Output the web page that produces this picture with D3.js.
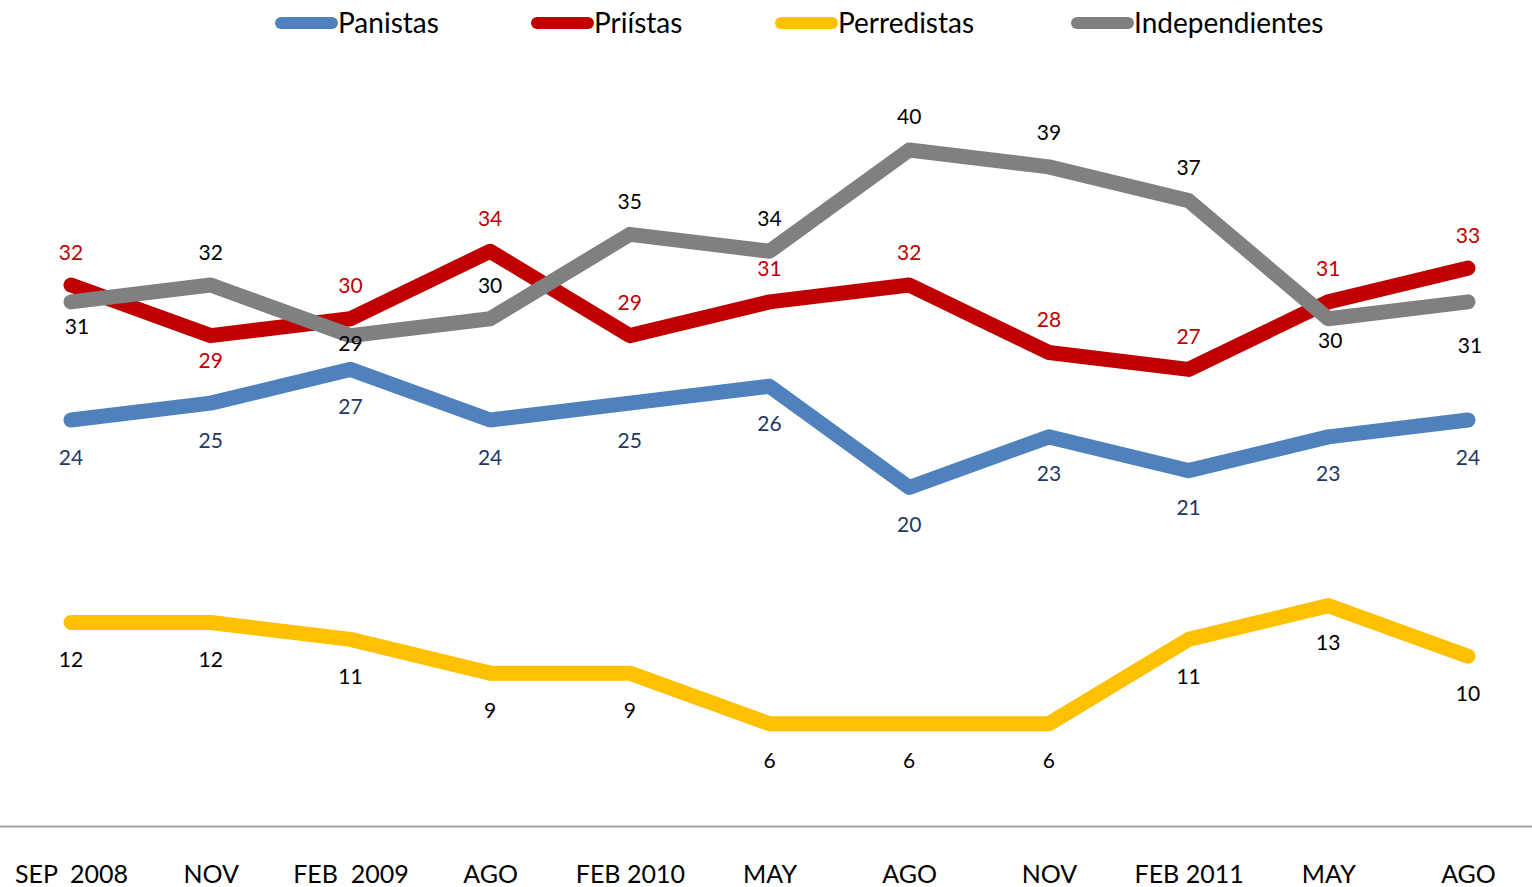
<!DOCTYPE html>
<html>
<head>
<meta charset="utf-8">
<script src="https://cdn.jsdelivr.net/npm/d3@7"></script>
<style>
  html, body { margin: 0; padding: 0; background: #fff; }
  svg { display: block; font-family: Lato, "Open Sans", sans-serif; }
  .legend text { font-size: 28px; fill: #000; }
  .tick-label { font-size: 25px; fill: #000; font-family: Lato, "Open Sans", sans-serif; }
  .val { font-size: 21px; text-anchor: middle; dominant-baseline: central; }
</style>
</head>
<body>
<svg id="chart" width="1532" height="887"></svg>
<script>
// Survey dates (category axis)
const periods = ["SEP  2008", "NOV", "FEB  2009", "AGO", "FEB 2010", "MAY",
                 "AGO", "NOV", "FEB 2011", "MAY", "AGO"];

// Party identification, percent
const panistas       = [24, 25, 27, 24, 25, 26, 20, 23, 21, 23, 24];
const priistas       = [32, 29, 30, 34, 29, 31, 32, 28, 27, 31, 33];
const perredistas    = [12, 12, 11, 9, 9, 6, 6, 6, 11, 13, 10];
const independientes = [31, 32, 29, 30, 35, 34, 40, 39, 37, 30, 31];

const seriesNames = ["Panistas", "Priístas", "Perredistas", "Independientes"];

// vertical nudge of each value label (px) relative to its point
const labelDy = {
  Panistas:       panistas.map(() => 36),
  "Priístas":     [-34, 24, -34, -34, -34, -34, -34, -34, -34, -34, -34],
  Perredistas:    perredistas.map(() => 36),
  Independientes: [24, -34, 7, -34, -34, -34, -35, -35, -34, 21, 43],
};
const labelDx = { Independientes: [6, 0, 0, 0, 0, 0, 0, 0, 0, 2, 2] };

const W = 1532, H = 887;
const svg = d3.select("#chart");

const x = d3.scalePoint().domain(d3.range(periods.length)).range([71, 1468]);
const y = d3.scaleLinear().domain([0, 40]).range([825, 150]);

const series = [
  { name: "Panistas", values: panistas, color: "#4f81bd", text: "#1f3864" },
  { name: "Priístas", values: priistas, color: "#c00000", text: "#c00000" },
  { name: "Perredistas", values: perredistas, color: "#ffc000", text: "#000" },
  { name: "Independientes", values: independientes, color: "#808080", text: "#000" },
];

// x axis: plain gray rule across the full width
svg.append("line")
  .attr("x1", 0).attr("x2", W)
  .attr("y1", 826.5).attr("y2", 826.5)
  .attr("stroke", "#a0a0a0").attr("stroke-width", 2);

const xAxis = d3.axisBottom(x).tickSize(0).tickPadding(0)
  .tickFormat(i => periods[i]);
const gx = svg.append("g").attr("transform", "translate(0,873)").call(xAxis)
  .attr("font-family", null).attr("font-size", null);
gx.select(".domain").remove();
gx.selectAll("text").attr("class", "tick-label")
  .attr("fill", "#000")
  .attr("dy", null).attr("dominant-baseline", "central")
  .style("white-space", "pre");

// lines
const line = d3.line().x((d, i) => x(i)).y(d => y(d));
svg.append("g").selectAll("path").data(series).join("path")
  .attr("d", s => line(s.values))
  .attr("fill", "none")
  .attr("stroke", s => s.color)
  .attr("stroke-width", 15)
  .attr("stroke-linejoin", "round")
  .attr("stroke-linecap", "round");

// value labels
series.forEach(s => {
  const dys = labelDy[s.name], dxs = labelDx[s.name] || [];
  svg.append("g").selectAll("text").data(s.values).join("text")
    .attr("class", "val")
    .attr("x", (d, i) => x(i) + (dxs[i] || 0))
    .attr("y", (d, i) => y(d) + dys[i])
    .attr("fill", s.text)
    .text(d => d);
});

// legend
const legendX = [276, 532, 776, 1072];
const lg = svg.append("g").attr("class", "legend");
series.forEach((s, i) => {
  const g = lg.append("g").attr("transform", `translate(${legendX[i]},23)`);
  g.append("line").attr("x1", 5).attr("x2", 56).attr("y1", 0).attr("y2", 0)
    .attr("stroke", s.color).attr("stroke-width", 12).attr("stroke-linecap", "round");
  g.append("text").attr("x", 62).attr("y", 0).attr("dy", "0.35em").text(s.name);
});
</script>
</body>
</html>
